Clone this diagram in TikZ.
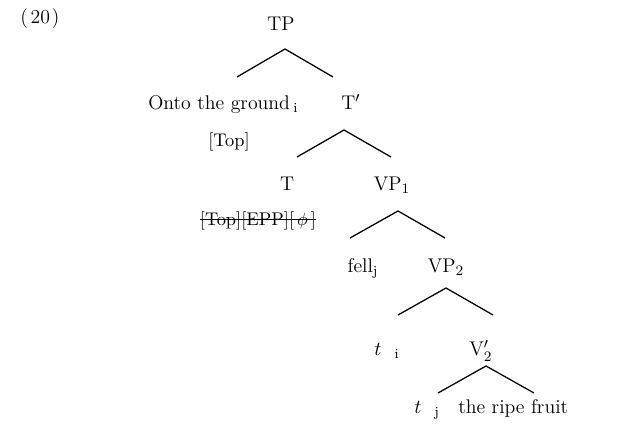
\documentclass[tikz,border=0pt]{standalone}
\usepackage{fontspec}
\begin{document}
\begin{tikzpicture}[x=0.5556pt,y=-0.5556pt,
  lab/.style={anchor=base,inner sep=0pt,font=\fontsize{11}{13}\selectfont},
  feat/.style={anchor=base,inner sep=0pt,font=\fontsize{10.2}{12}\selectfont},
  branch/.style={line width=0.7pt}]
\useasboundingbox (0,0) rectangle (618,426);
% labels
\node[lab,anchor=base west] (num) at (20,24) {(\kern1.5pt20\kern1pt)};
\node[lab] (TP) at (281,31) {TP};
\node[lab,anchor=base west] (onto) at (148,110) {Onto the ground\,$_{\mathrm{i}}$};
\node[lab] (Tbar) at (351,110) {T$'$};
\node[feat] (top) at (229,147) {[Top]};
\node[lab] (T) at (287,191) {T};
\node[lab] (VP1) at (392,191) {VP$_1$};
\node[feat] (feats) at (258,226) {[Top][EPP][\,$\phi$\,]};
\draw[line width=0.5pt] ([yshift=3.4pt]feats.base west) -- ([yshift=3.4pt]feats.base east);
\node[lab] (fell) at (363,273) {fell$_{\mathrm{j}}$};
\node[lab] (VP2) at (446,273) {VP$_2$};
\node[lab] (ti) at (387,356) {$t$\ \ $_{\mathrm{i}}$};
\node[lab] (Vbar) at (481,356) {V$'_2$};
\node[lab] (tj) at (427,414) {$t$\ \ $_{\mathrm{j}}$};
\node[lab,anchor=base west] (fruit) at (458,414) {the ripe fruit};
% branch points
\coordinate (a1) at (285,49);  \coordinate (l1) at (237,77);  \coordinate (r1) at (333,77);
\coordinate (a2) at (344,130); \coordinate (l2) at (297,157); \coordinate (r2) at (391,157);
\coordinate (a3) at (398,211); \coordinate (l3) at (350,238); \coordinate (r3) at (445,238);
\coordinate (a4) at (446,288); \coordinate (l4) at (398,315); \coordinate (r4) at (493,315);
\coordinate (a5) at (486,366); \coordinate (l5) at (438,393); \coordinate (r5) at (534,393);
\draw[branch] (l1) -- (a1) -- (r1);
\draw[branch] (l2) -- (a2) -- (r2);
\draw[branch] (l3) -- (a3) -- (r3);
\draw[branch] (l4) -- (a4) -- (r4);
\draw[branch] (l5) -- (a5) -- (r5);
\end{tikzpicture}
\end{document}
